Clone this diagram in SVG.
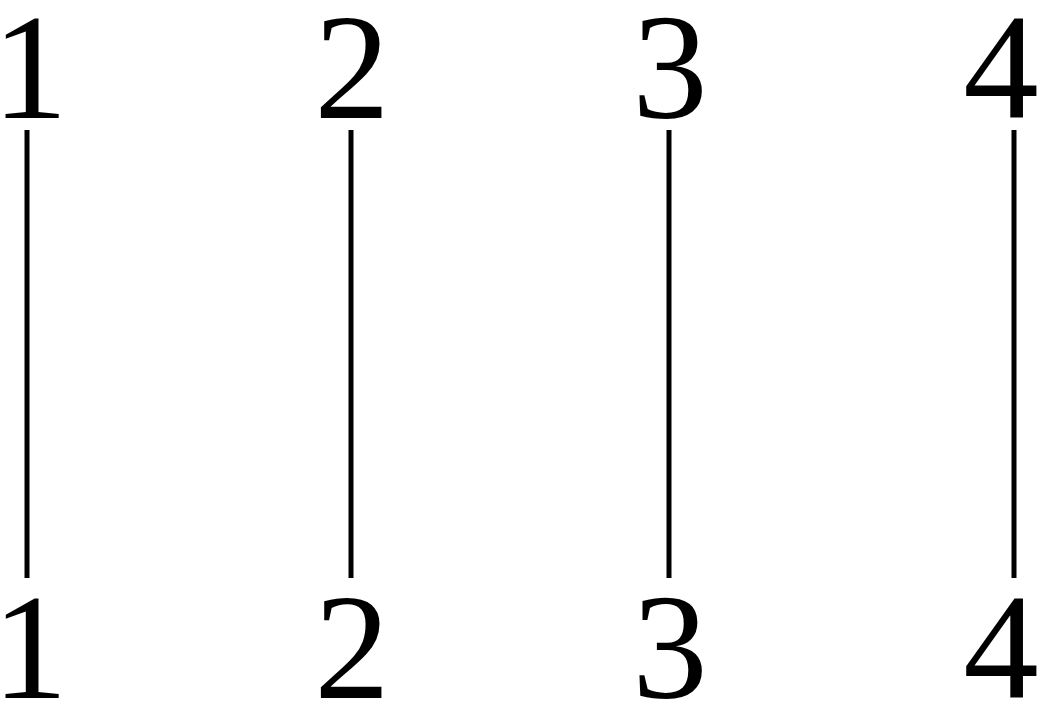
<svg xmlns="http://www.w3.org/2000/svg" width="1045" height="711" viewBox="0 0 1045 711">
<style>
text{font-family:"Liberation Serif","Times New Roman",serif;font-size:151px;fill:#000;text-anchor:middle}
.c line{stroke:#000;stroke-width:5}
</style>
<rect width="1045" height="711" fill="#fff"/>
<g id="top1"><text x="30" y="118">1</text></g>
<g id="top2"><text x="352" y="118">2</text></g>
<g id="top3"><text x="670" y="118">3</text></g>
<g id="top4"><text x="1001" y="118">4</text></g>
<g id="bot1"><text x="30" y="698">1</text></g>
<g id="bot2"><text x="352" y="698">2</text></g>
<g id="bot3"><text x="670" y="698">3</text></g>
<g id="bot4"><text x="1001" y="698">4</text></g>
<g class="c" id="connectors">
<line x1="27" y1="130" x2="27" y2="578"/>
<line x1="351" y1="130" x2="351" y2="578"/>
<line x1="669" y1="130" x2="669" y2="578"/>
<line x1="1014" y1="130" x2="1014" y2="578"/>
</g>
</svg>
